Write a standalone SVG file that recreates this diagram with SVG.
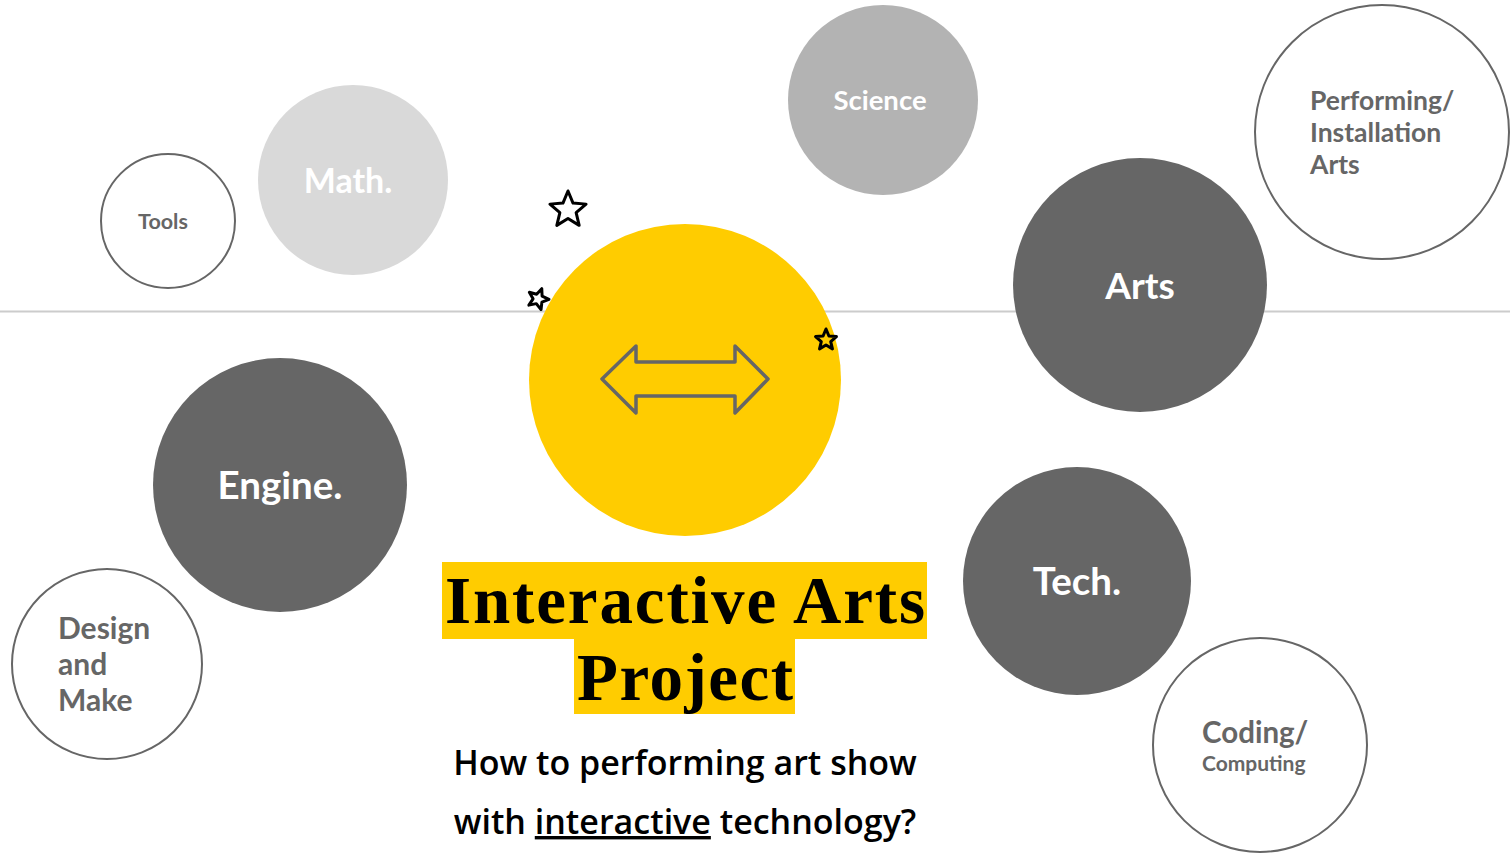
<svg xmlns="http://www.w3.org/2000/svg" xmlns:xlink="http://www.w3.org/1999/xlink" width="1510" height="854" viewBox="0 0 1510 854">
<style>
.lbl{font-family:Lato,"Open Sans",sans-serif;font-weight:700}
.w{fill:#ffffff}
.g{fill:#666666}
.dark{fill:#666666}
.outline{fill:#ffffff;stroke:#666666;stroke-width:2}
.title{font-family:"Liberation Serif",serif;font-weight:700;font-size:67px;fill:#000}
.sub{font-family:"Open Sans",sans-serif;font-weight:600;font-size:34px;fill:#000}
</style>
<defs>
<path id="star" d="M0,-1 L0.265,-0.364 0.951,-0.309 0.428,0.139 0.588,0.809 0,0.45 -0.588,0.809 -0.428,0.139 -0.951,-0.309 -0.265,-0.364Z" fill="none" stroke="#000" stroke-width="3" stroke-linejoin="round" vector-effect="non-scaling-stroke"/>
</defs>
<rect width="1510" height="854" fill="#ffffff"/>
<g id="connectors">
<line x1="0" y1="311.500" x2="1510" y2="311.500" stroke="#cccccc" stroke-width="2"/>
</g>
<g id="center">
<circle cx="685" cy="380" r="156" fill="#ffcc00"/>
<path d="M602,379 L636,346 L636,362 L735,362 L735,346 L768,379 L735,413 L735,396 L636,396 L636,413 Z" fill="none" stroke="#666666" stroke-width="3.500" stroke-linejoin="round"/>
</g>
<g id="stars">
<use xlink:href="#star" transform="translate(568,210) scale(19)"/>
<use xlink:href="#star" transform="translate(538,299) rotate(20) scale(11)"/>
<use xlink:href="#star" transform="translate(826,340) scale(11)"/>
</g>
<g id="science">
<circle cx="883" cy="100" r="95" fill="#b3b3b3"/>
<text class="lbl w" x="880" y="110" font-size="27.500" text-anchor="middle">Science</text>
</g>
<g id="math">
<circle cx="353" cy="180" r="95" fill="#d9d9d9"/>
<text class="lbl w" x="348" y="193" font-size="34" text-anchor="middle">Math.</text>
</g>
<g id="tools">
<circle class="outline" cx="168" cy="221" r="67"/>
<text class="lbl g" x="163" y="229" font-size="21.500" text-anchor="middle">Tools</text>
</g>
<g id="performing">
<circle class="outline" cx="1382" cy="132" r="127"/>
<text class="lbl g" font-size="26.500"><tspan x="1310" y="110">Performing/</tspan><tspan x="1310" y="142">Installation</tspan><tspan x="1310" y="174">Arts</tspan></text>
</g>
<g id="arts">
<circle class="dark" cx="1140" cy="285" r="127"/>
<text class="lbl w" x="1140" y="299" font-size="37" text-anchor="middle">Arts</text>
</g>
<g id="engine">
<circle class="dark" cx="280" cy="485" r="127"/>
<text class="lbl w" x="280" y="499" font-size="38.500" text-anchor="middle">Engine.</text>
</g>
<g id="tech">
<circle class="dark" cx="1077" cy="581" r="114"/>
<text class="lbl w" x="1077" y="595" font-size="38.500" text-anchor="middle">Tech.</text>
</g>
<g id="design">
<circle class="outline" cx="107" cy="664" r="95"/>
<text class="lbl g" font-size="30"><tspan x="58" y="639">Design</tspan><tspan x="58" y="675">and</tspan><tspan x="58" y="711">Make</tspan></text>
</g>
<g id="coding">
<circle class="outline" cx="1260" cy="745" r="107"/>
<text class="lbl g" x="1202" y="743" font-size="29.500">Coding/</text>
<text class="lbl g" x="1202" y="771" font-size="21">Computing</text>
</g>
<g id="title">
<rect x="442" y="562" width="485" height="77" fill="#ffcc00"/>
<rect x="574" y="638" width="221" height="76" fill="#ffcc00"/>
<text class="title" x="685" y="623" text-anchor="middle" textLength="480" lengthAdjust="spacing">Interactive Arts</text>
<text class="title" x="685" y="700" text-anchor="middle" textLength="216" lengthAdjust="spacing">Project</text>
<text class="sub" x="685" y="775" text-anchor="middle">How to performing art show</text>
<text class="sub" x="685" y="834" text-anchor="middle">with <tspan text-decoration="underline">interactive</tspan> technology?</text>
</g>
</svg>
